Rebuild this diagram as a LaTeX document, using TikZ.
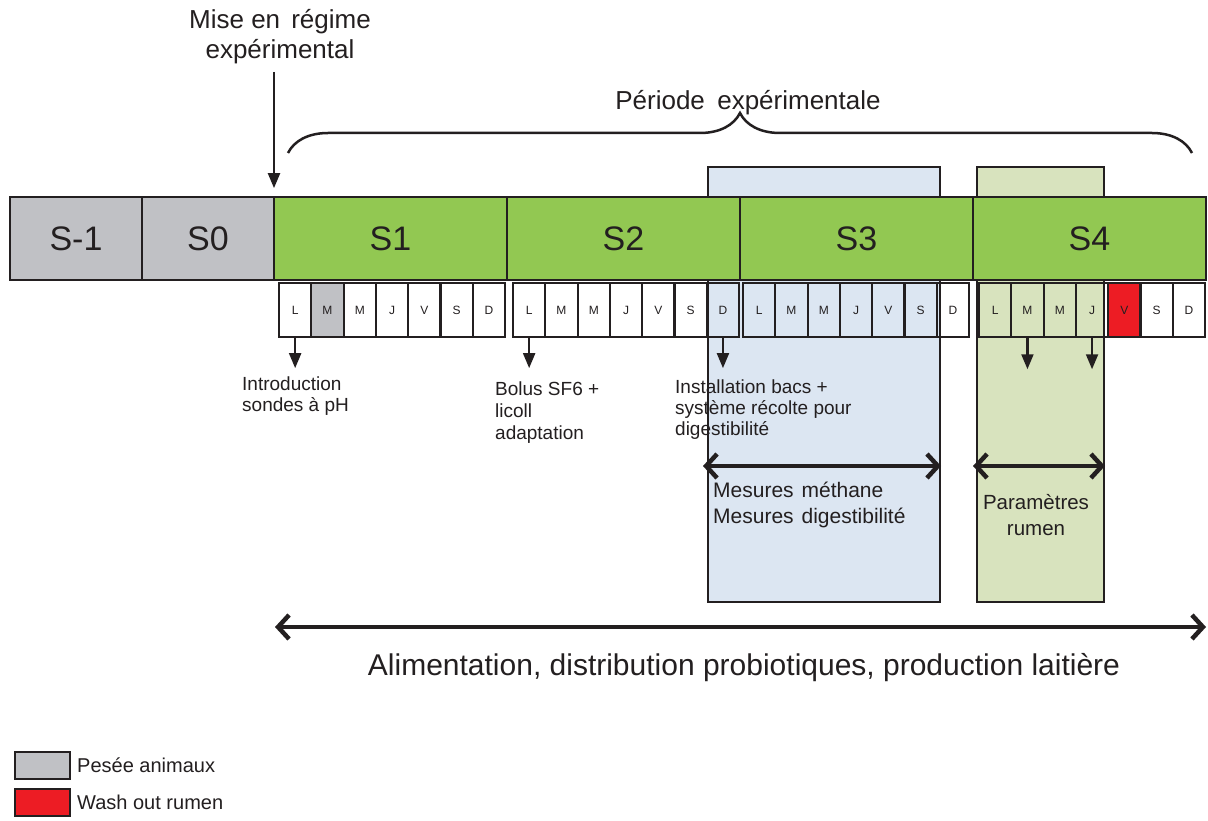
\documentclass[tikz,border=0pt]{standalone}
\usepackage{fontspec}
\setmainfont{Liberation Sans}
\usetikzlibrary{positioning}
\usetikzlibrary{arrows}
\usetikzlibrary{arrows.meta}
\usetikzlibrary{decorations.pathreplacing}
\definecolor{encre}{RGB}{35,31,32}
\definecolor{pesee}{RGB}{192,193,197}
\definecolor{vert}{RGB}{146,200,82}
\definecolor{bleu}{RGB}{220,230,242}
\definecolor{vertclair}{RGB}{216,227,190}
\definecolor{rouge}{RGB}{237,28,36}
\tikzstyle{S} = [rectangle,draw=encre,fill=vert,line width=2.5pt,minimum width=233pt,minimum height=83pt,inner sep=0pt,outer sep=0pt,font=\fontsize{34}{34}\selectfont]
\tikzstyle{J} = [rectangle,draw=encre,line width=2.2pt,minimum width=32.3pt,minimum height=54pt,inner sep=0pt,font=\fontsize{12}{12}\selectfont]
\tikzstyle{Z} = [rectangle,draw=encre,line width=2pt,minimum height=435pt,inner sep=0pt]
\tikzstyle{T} = [inner sep=0pt,align=left,font=\fontsize{19}{21}\selectfont]
\tikzstyle{F} = [{Straight Barb[length=11pt,width=24pt]}-{Straight Barb[length=11pt,width=24pt]},line width=4.5pt,line cap=round]
\tikzset{>={triangle 45}}

\begin{document}
\begin{tikzpicture}[x=1pt,y=-1pt,color=encre,text=encre]
  \useasboundingbox[fill=white] (0,0) rectangle (1208,821);

  % zones de mesure
  \node [Z,fill=bleu,minimum width=232pt] (zb) at (824,384.5) {};
  \node [Z,fill=vertclair,minimum width=127pt] (zv) at (1040.5,384.5) {};

  % semaines
  \node [S,fill=pesee,minimum width=132pt,anchor=west] (sm1) at (10,238.5) {S-1};
  \node [S,fill=pesee,minimum width=132pt,right=0pt of sm1] (s0) {S0};
  \node [S,right=0pt of s0] (s1) {S1};
  \node [S,right=0pt of s1] (s2) {S2};
  \node [S,right=0pt of s2] (s3) {S3};
  \node [S,right=0pt of s3] (s4) {S4};

  % jours
  \foreach \j/\f [count=\i] in {L/none,M/pesee,M/none,J/none,V/none,S/none,D/none}
    \node [J,fill=\f] (d1\i) at ({279+32.3*(\i-.5)},310) {\j};
  \foreach \j/\f [count=\i] in {L/none,M/none,M/none,J/none,V/none,S/none,D/none}
    \node [J,fill=\f] (d2\i) at ({513+32.3*(\i-.5)},310) {\j};
  \foreach \j/\f [count=\i] in {L/none,M/none,M/none,J/none,V/none,S/none,D/none}
    \node [J,fill=\f] (d3\i) at ({743+32.3*(\i-.5)},310) {\j};
  \foreach \j/\f [count=\i] in {L/none,M/none,M/none,J/none,V/rouge,S/none,D/none}
    \node [J,fill=\f] (d4\i) at ({979+32.3*(\i-.5)},310) {\j};

  % textes
  \node [align=center,font=\fontsize{26}{30}\selectfont] (mise) at (280,37) {Mise en\hspace{.15em} régime\\expérimental};
  \node [font=\fontsize{26}{26}\selectfont] (per) at (748,103) {Période\hspace{.2em} expérimentale};
  \node [T,anchor=north west] (t1) at (242,377) {Introduction\\sondes à pH};
  \node [T,anchor=north west,font=\fontsize{19}{22}\selectfont] (t2) at (495,382) {Bolus SF6 +\\licoll\\adaptation};
  \node [T,anchor=north west] (t3) at (675,380) {Installation bacs +\\système récolte pour\\digestibilité};
  \node [T,anchor=north west,font=\fontsize{21}{26}\selectfont] (t4) at (713,482) {Mesures\hspace{.1em} méthane\\Mesures\hspace{.1em} digestibilité};
  \node [T,align=center,anchor=north,font=\fontsize{20.5}{26}\selectfont] (t5) at (1036,494) {Paramètres\\rumen};
  \node [font=\fontsize{30}{30}\selectfont] (alim) at (744,668) {Alimentation, distribution probiotiques, production laitière};

  % fleches
  \draw [->,line width=2.5pt,shorten <=4pt,shorten >=9pt] (mise.south -| s1.west) -- (s1.north west);
  \draw [->,line width=2.5pt,shorten >=9pt] (d11.south) -- (d11.south |- t1.north);
  \draw [->,line width=2.5pt,shorten >=14pt] (d21.south) -- (d21.south |- t2.north);
  \draw [->,line width=2.5pt,shorten >=12pt] (d27.south) -- (d27.south |- t3.north);
  \draw [->,line width=2.5pt] (d42.south) -- ++(0,31);
  \draw [->,line width=2.5pt] (d44.south) -- ++(0,31);
  \draw [F,shorten <=-4pt] ([yshift=-81.5pt]zb.west) -- ([yshift=-81.5pt]zb.east);
  \draw [F,shorten <=-3pt] ([yshift=-81.5pt]zv.west) -- ([yshift=-81.5pt]zv.east);
  \coordinate (ag) at (275,627);
  \coordinate (ad) at (1206,627);
  \draw [F] (ag) -- (ad);

  % accolade
  \draw [decorate,decoration={brace,amplitude=40pt},line width=2.5pt] (288,153) -- (1192,153);

  % legende
  \node [rectangle,draw=encre,line width=2pt,fill=pesee,minimum width=55pt,minimum height=27pt] (lg1) at (42.5,765.5) {};
  \node [T,right=6pt of lg1,font=\fontsize{20}{20}\selectfont] (lt1) {Pesée animaux};
  \node [rectangle,draw=encre,line width=2pt,fill=rouge,minimum width=55pt,minimum height=27pt] (lg2) at (42.5,802.5) {};
  \node [T,right=6pt of lg2,font=\fontsize{20}{20}\selectfont] (lt2) {Wash out rumen};
\end{tikzpicture}
\end{document}
